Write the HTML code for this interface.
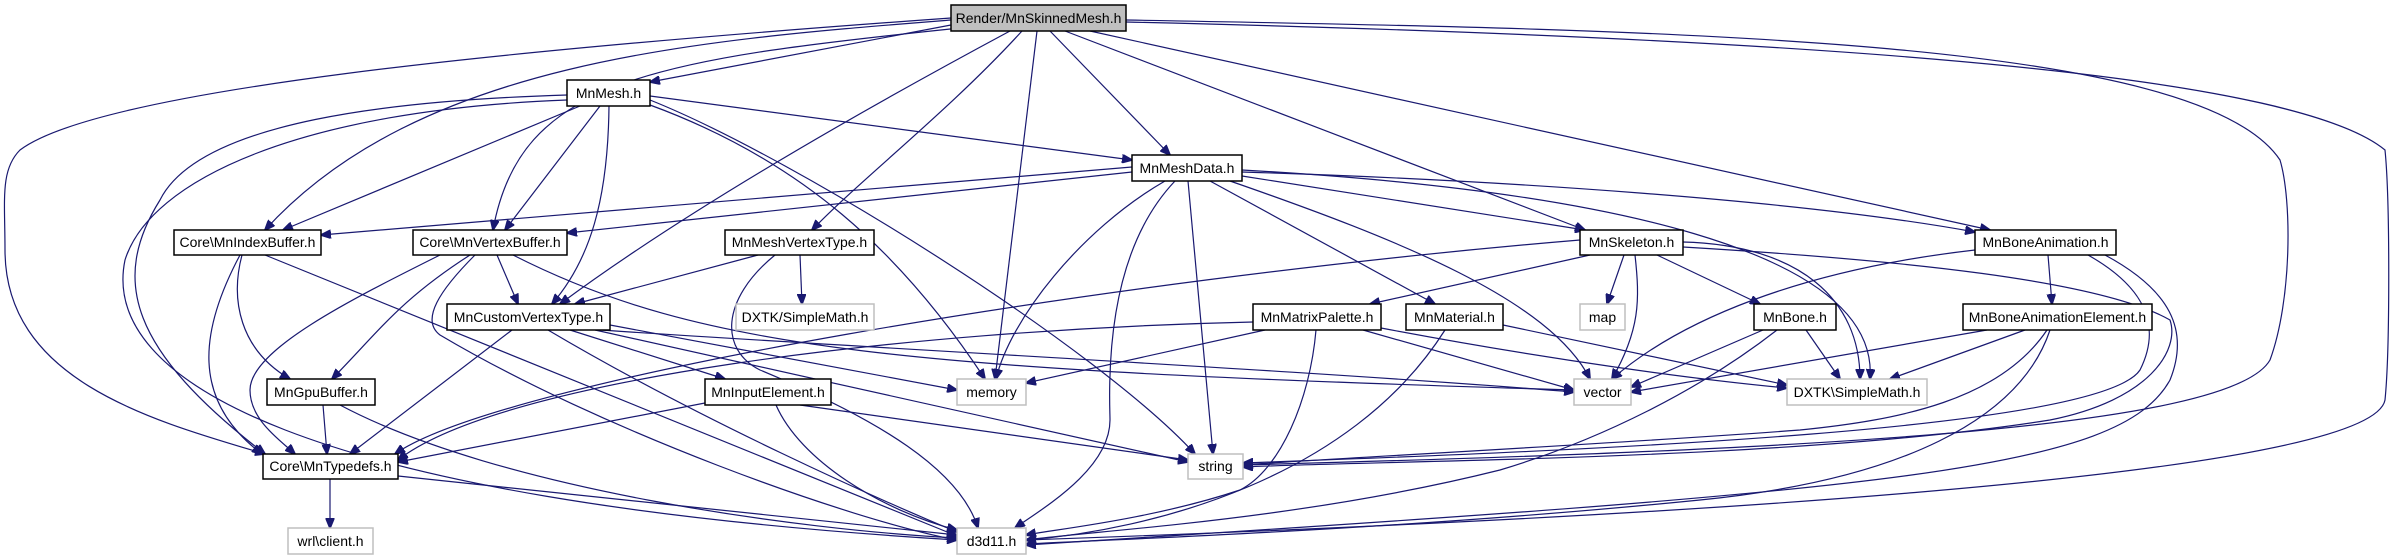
<!DOCTYPE html>
<html><head><meta charset="utf-8"><style>
html,body{margin:0;padding:0;background:#fff;}
svg{display:block;}
text{font-family:"Liberation Sans",sans-serif;font-size:14px;fill:#000;}
.e{fill:none;stroke:#191970;stroke-width:1.2;}
</style></head><body>
<svg width="2392" height="560" viewBox="0 0 2392 560" xmlns="http://www.w3.org/2000/svg">
<defs>
<marker id="a" markerWidth="11" markerHeight="9" refX="10" refY="4.5" orient="auto" markerUnits="userSpaceOnUse">
<path d="M0,0 L11,4.5 L0,9 z" fill="#191970" stroke="#191970"/>
</marker>
</defs>
<g class="e" marker-end="url(#a)">
<path d="M951 25 L650 82"/>
<path d="M951 20 C700 40,420 60,265 230"/>
<path d="M960 28 C650 60,520 80,493 230"/>
<path d="M951 18 C500 50,100 90,20 150 C0 170,5 200,5 250 C5 380,150 420,265 454"/>
<path d="M1010 31 C900 90,700 200,560 304"/>
<path d="M1037 31 L995 379"/>
<path d="M1050 31 L1170 155"/>
<path d="M1022 31 C950 110,860 180,812 230"/>
<path d="M1065 31 L1585 230"/>
<path d="M1090 31 L1990 230"/>
<path d="M1126 20 C1700 30,2200 40,2280 160 C2292 200,2292 300,2270 360 C2230 430,1800 450,1243 465"/>
<path d="M1126 22 C1900 40,2300 80,2385 150 C2390 200,2390 350,2385 400 C2370 480,1600 520,1026 540"/>
<path d="M580 106 L283 230"/>
<path d="M600 106 L505 230"/>
<path d="M609 106 C608 200,590 260,552 304"/>
<path d="M567 95 C400 100,200 120,160 200 C110 280,130 350,265 454"/>
<path d="M650 96 L1132 160"/>
<path d="M650 105 C800 160,900 250,985 379"/>
<path d="M650 100 C800 160,1100 350,1195 454"/>
<path d="M567 100 C300 110,150 180,125 260 C100 380,300 500,957 540"/>
<path d="M1132 167 L321 235"/>
<path d="M1132 172 L567 233"/>
<path d="M1165 181 C1080 230,1010 320,996 379"/>
<path d="M1175 181 C1100 260,1110 400,1110 420 C1110 470,1040 510,1015 528"/>
<path d="M1188 181 L1213 454"/>
<path d="M1210 181 L1435 304"/>
<path d="M1242 176 L1585 230"/>
<path d="M1242 172 C1500 180,1800 200,1975 232"/>
<path d="M1230 181 C1400 240,1550 300,1590 379"/>
<path d="M1242 170 C1600 190,1880 250,1870 379"/>
<path d="M242 255 C230 300,240 350,290 379"/>
<path d="M240 255 C200 330,190 400,262 454"/>
<path d="M265 255 L957 536"/>
<path d="M497 255 L518 304"/>
<path d="M470 255 C400 300,380 330,332 379"/>
<path d="M440 255 C350 300,250 350,250 390 C250 420,280 440,295 454"/>
<path d="M475 255 C440 290,420 320,440 335 C600 430,850 520,957 540"/>
<path d="M513 255 C700 350,900 370,1574 390"/>
<path d="M758 255 L575 304"/>
<path d="M800 255 L802 304"/>
<path d="M775 255 C720 300,720 350,760 370 C880 420,960 470,978 528"/>
<path d="M512 330 L350 454"/>
<path d="M570 330 L725 379"/>
<path d="M610 325 L957 390"/>
<path d="M600 330 C900 350,1300 370,1574 392"/>
<path d="M595 330 L1188 462"/>
<path d="M548 330 C700 420,880 500,957 532"/>
<path d="M1580 240 C1100 280,500 380,395 454"/>
<path d="M1590 255 L1370 304"/>
<path d="M1624 255 L1607 304"/>
<path d="M1635 255 C1640 300,1640 330,1612 379"/>
<path d="M1657 255 L1760 304"/>
<path d="M1683 242 C1800 245,1860 300,1860 379"/>
<path d="M1683 247 C1900 260,2100 280,2170 320 C2180 350,2150 400,2050 420 C1800 460,1400 460,1243 467"/>
<path d="M1975 250 C1800 270,1680 320,1612 379"/>
<path d="M2048 255 L2052 304"/>
<path d="M2105 255 C2170 290,2190 330,2170 380 C2120 470,1900 490,1026 545"/>
<path d="M2088 255 C2150 290,2160 330,2140 370 C2100 430,1600 450,1243 463"/>
<path d="M1253 322 C900 330,500 380,398 460"/>
<path d="M1265 330 L1026 383"/>
<path d="M1363 330 L1574 390"/>
<path d="M1316 330 C1310 400,1280 470,1240 490 C1150 520,1050 530,1026 535"/>
<path d="M1381 328 C1550 360,1700 380,1787 388"/>
<path d="M1445 330 C1350 480,1150 530,1026 540"/>
<path d="M1503 325 L1787 385"/>
<path d="M1763 330 L1631 387"/>
<path d="M1806 330 L1840 379"/>
<path d="M1777 330 C1700 390,1600 440,1500 470 C1300 520,1100 530,1026 540"/>
<path d="M1987 330 L1631 392"/>
<path d="M2025 330 L1890 379"/>
<path d="M2047 330 C2000 400,1900 420,1800 430 C1600 445,1300 460,1243 465"/>
<path d="M2050 330 C2020 420,1900 480,1700 500 C1400 530,1100 540,1026 544"/>
<path d="M323 405 L327 454"/>
<path d="M340 405 C500 490,800 530,957 538"/>
<path d="M705 403 L398 462"/>
<path d="M800 405 L1188 460"/>
<path d="M776 405 C800 460,880 510,957 530"/>
<path d="M330 479 L330 528"/>
<path d="M398 476 L957 535"/>
</g>
<g stroke-width="1.5">
<rect x="951" y="5" width="175" height="26" fill="#bfbfbf" stroke="#000"/>
<rect x="567" y="80" width="83" height="26" fill="#fff" stroke="#000"/>
<rect x="1132" y="155" width="110" height="26" fill="#fff" stroke="#000"/>
<rect x="174" y="230" width="147" height="25" fill="#fff" stroke="#000"/>
<rect x="413" y="230" width="154" height="25" fill="#fff" stroke="#000"/>
<rect x="725" y="230" width="149" height="25" fill="#fff" stroke="#000"/>
<rect x="1580" y="230" width="103" height="25" fill="#fff" stroke="#000"/>
<rect x="1975" y="230" width="141" height="25" fill="#fff" stroke="#000"/>
<rect x="447" y="304" width="163" height="26" fill="#fff" stroke="#000"/>
<rect x="736" y="304" width="138" height="26" fill="#fff" stroke="#bfbfbf"/>
<rect x="1253" y="304" width="128" height="26" fill="#fff" stroke="#000"/>
<rect x="1406" y="304" width="97" height="26" fill="#fff" stroke="#000"/>
<rect x="1580" y="304" width="45" height="26" fill="#fff" stroke="#bfbfbf"/>
<rect x="1754" y="304" width="82" height="26" fill="#fff" stroke="#000"/>
<rect x="1963" y="304" width="189" height="26" fill="#fff" stroke="#000"/>
<rect x="267" y="379" width="108" height="26" fill="#fff" stroke="#000"/>
<rect x="705" y="379" width="126" height="26" fill="#fff" stroke="#000"/>
<rect x="957" y="379" width="69" height="26" fill="#fff" stroke="#bfbfbf"/>
<rect x="1574" y="379" width="57" height="26" fill="#fff" stroke="#bfbfbf"/>
<rect x="1787" y="379" width="140" height="26" fill="#fff" stroke="#bfbfbf"/>
<rect x="263" y="454" width="135" height="25" fill="#fff" stroke="#000"/>
<rect x="1188" y="454" width="55" height="25" fill="#fff" stroke="#bfbfbf"/>
<rect x="288" y="528" width="85" height="26" fill="#fff" stroke="#bfbfbf"/>
<rect x="957" y="528" width="69" height="26" fill="#fff" stroke="#bfbfbf"/>
</g>
<g text-anchor="middle">
<text x="1038.5" y="23">Render/MnSkinnedMesh.h</text>
<text x="608.5" y="98">MnMesh.h</text>
<text x="1187" y="173">MnMeshData.h</text>
<text x="247.5" y="247">Core\MnIndexBuffer.h</text>
<text x="490" y="247">Core\MnVertexBuffer.h</text>
<text x="799.5" y="247">MnMeshVertexType.h</text>
<text x="1631.5" y="247">MnSkeleton.h</text>
<text x="2045.5" y="247">MnBoneAnimation.h</text>
<text x="528.5" y="322">MnCustomVertexType.h</text>
<text x="805" y="322">DXTK/SimpleMath.h</text>
<text x="1317" y="322">MnMatrixPalette.h</text>
<text x="1454.5" y="322">MnMaterial.h</text>
<text x="1602.5" y="322">map</text>
<text x="1795" y="322">MnBone.h</text>
<text x="2057.5" y="322">MnBoneAnimationElement.h</text>
<text x="321" y="397">MnGpuBuffer.h</text>
<text x="768" y="397">MnInputElement.h</text>
<text x="991.5" y="397">memory</text>
<text x="1602.5" y="397">vector</text>
<text x="1857" y="397">DXTK\SimpleMath.h</text>
<text x="330.5" y="471">Core\MnTypedefs.h</text>
<text x="1215.5" y="471">string</text>
<text x="330.5" y="546">wrl\client.h</text>
<text x="991.5" y="546">d3d11.h</text>
</g>
</svg>
</body></html>
